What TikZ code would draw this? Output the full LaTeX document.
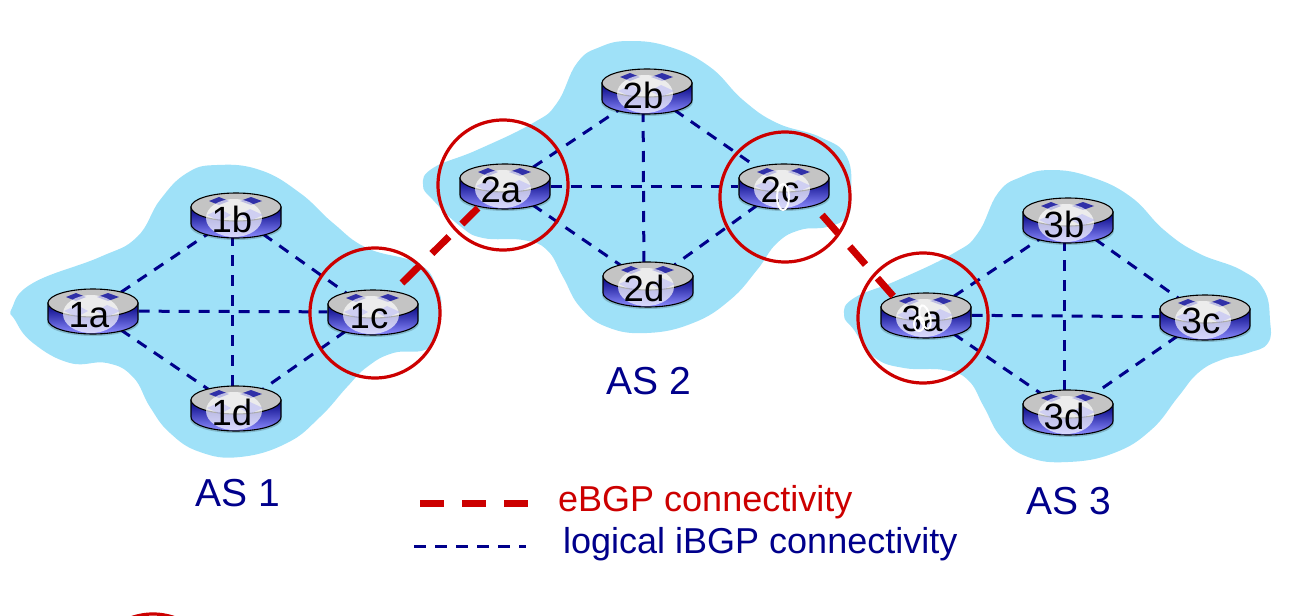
\documentclass[tikz,border=0pt]{standalone}
\usepackage{fontspec}
\setmainfont{Liberation Sans}
\usetikzlibrary{shapes.geometric,calc}
\pgfdeclarelayer{blobs}\pgfdeclarelayer{links}
\pgfsetlayers{blobs,links,main}
\definecolor{asblue}{HTML}{9FE1F8}
\definecolor{navyt}{HTML}{00008B}
\definecolor{redt}{HTML}{CC0000}
\definecolor{routertop}{HTML}{C4C4C4}
\definecolor{diam}{HTML}{3030A8}
\tikzset{
  blob/.style={fill=asblue,draw=none},
  ibgp/.style={navyt,line width=3pt,dash pattern=on 11pt off 9pt},
  ebgp/.style={redt,line width=7pt,dash pattern=on 24pt off 18pt},
  ring/.style={circle,draw=redt,line width=3.2pt,minimum size=130pt,inner sep=0pt},
  routerbox/.style={ellipse,minimum width=91pt,minimum height=47pt,inner sep=0pt},
  routertext/.style={font=\fontsize{36.5}{37}\selectfont,text=black,inner sep=0pt},
  astext/.style={font=\fontsize{39}{39}\selectfont,text=navyt,inner sep=0pt},
  legendred/.style={font=\fontsize{36}{36}\selectfont,text=redt,inner sep=0pt,anchor=west},
  legendblue/.style={font=\fontsize{36}{36}\selectfont,text=navyt,inner sep=0pt,anchor=west},
  glitch/.style={draw=white,line width=2pt,fill=none},
}
\newcommand{\routerat}[4]{%
  \begin{scope}[shift={(#2,#3)}]
    \fill[black,opacity=.18] (0,11) ellipse[x radius=46,y radius=14];
    \path[draw=black,line width=1.1pt,top color=blue!50!black,bottom color=blue!45!white]
      (-45,-8) -- (-45,9) arc[start angle=180,end angle=0,x radius=45,y radius=14] -- (45,-8) -- cycle;
    \path[draw=black,line width=1.1pt,fill=routertop] (0,-8) ellipse[x radius=45,y radius=14];
    \fill[diam] (-27,-14) -- (-17,-18) -- (-7,-14) -- (-17,-10) -- cycle;
    \fill[diam] (4,-14) -- (15,-18) -- (26,-14) -- (15,-10) -- cycle;
    \fill[white,opacity=.68] (-2,3) ellipse[x radius=28,y radius=19];
    \fill[blue!40!white,opacity=.35] (-29,0) -- (-16,-6) -- (-5,0) -- (-16,6) -- cycle;
    \fill[blue!40!white,opacity=.35] (3,0) -- (14,-6) -- (27,0) -- (14,6) -- cycle;
  \end{scope}
  \node[routerbox] (r#1) at (#2,#3) {};
  \node[routertext] (l#1) at ($(#2,#3)+(-4,4)$) {#4};
}
\begin{document}
\begin{tikzpicture}[x=1pt,y=-1pt]
\useasboundingbox (0,0) rectangle (1291,616);
\begin{pgfonlayer}{blobs}
\fill[blob] plot[smooth cycle,tension=.75] coordinates {(12,308) (33,283) (100,257) (137,237) (160,200) (187,173) (217,165) (260,170) (300,193) (333,223) (367,248) (417,263) (436,285) (441,312) (430,347) (393,353) (367,367) (347,387) (320,417) (287,443) (240,457) (200,452) (170,433) (150,407) (133,377) (107,363) (70,363) (33,343) (15,320)};
\fill[blob] plot[smooth cycle,tension=.75] coordinates {(423,185) (433,168) (477,150) (533,123) (557,103) (577,63) (600,47) (630,41) (670,47) (710,67) (743,100) (777,123) (820,137) (847,157) (851,197) (847,217) (827,227) (800,230) (777,243) (757,270) (730,300) (693,323) (647,333) (607,327) (580,307) (563,277) (547,250) (523,240) (483,238) (460,226) (433,200)};
\fill[blob] plot[smooth cycle,tension=.75] coordinates {(844,315) (854,298) (898,280) (954,253) (978,233) (998,193) (1021,177) (1051,170) (1091,177) (1131,197) (1164,230) (1198,253) (1241,270) (1264,290) (1270,320) (1268,343) (1248,353) (1221,360) (1198,373) (1178,397) (1151,430) (1114,453) (1068,462) (1028,457) (1001,437) (984,407) (968,380) (944,370) (904,368) (874,357) (854,330)};
\end{pgfonlayer}

\routerat{1a}{93}{311}{1a}
\routerat{1b}{236}{215}{1b}
\routerat{1c}{373}{312}{1c}
\routerat{1d}{236}{408}{1d}
\routerat{2a}{505}{186}{2a}
\routerat{2b}{647}{91}{2b}
\routerat{2c}{784}{186}{2c}
\routerat{2d}{648}{284}{2d}
\routerat{3a}{926}{315}{3a}
\routerat{3b}{1068}{220}{3b}
\routerat{3c}{1205}{317}{3c}
\routerat{3d}{1068}{412}{3d}

\draw[glitch] (783,197) ellipse[x radius=6,y radius=13];
\draw[glitch,rotate around={15:(925,317)}] (925,317) ellipse[x radius=5,y radius=12];
\draw[glitch] (919,324) ellipse[x radius=5,y radius=7];

\begin{pgfonlayer}{links}
\foreach \n in {1,2,3}{
  \draw[ibgp] (r\n a) -- (r\n b);
  \draw[ibgp] (r\n a) -- (r\n c);
  \draw[ibgp] (r\n a) -- (r\n d);
  \draw[ibgp] (r\n b) -- (r\n c);
  \draw[ibgp] ($(r\n b)+(-4,0)$) -- ($(r\n d)+(-4,0)$);
  \draw[ibgp] (r\n c) -- (r\n d);
}
\end{pgfonlayer}
\draw[ebgp] ($(r1c)+(29,-29)$) -- ($(r2a)+(-27,22)$);
\draw[ebgp] ($(r2c)+(38,29)$) -- ($(r3a)+(-32,-18)$);

\node[ring] (c1) at (375,313) {};
\node[ring] (c2) at (503,185) {};
\node[ring] (c3) at (785,197) {};
\node[ring] (c4) at (923,318) {};
\node[ring] (c5) at (153,679) {};

\node[astext] (as1) at (238,493) {AS 1};
\node[astext] (as2) at (649,381) {AS 2};
\node[astext] (as3) at (1069,501) {AS 3};

\coordinate (la) at (420,503);
\coordinate (lb) at (528,503);
\coordinate (lc) at (414,546);
\coordinate (ld) at (526,546);
\draw[ebgp] (la) -- (lb);
\draw[navyt,line width=3pt,dash pattern=on 12pt off 9pt] (lc) -- (ld);
\node[legendred] (t1) at (558,502) {eBGP connectivity};
\node[legendblue] (t2) at (563,544) {logical iBGP connectivity};
\end{tikzpicture}
\end{document}
